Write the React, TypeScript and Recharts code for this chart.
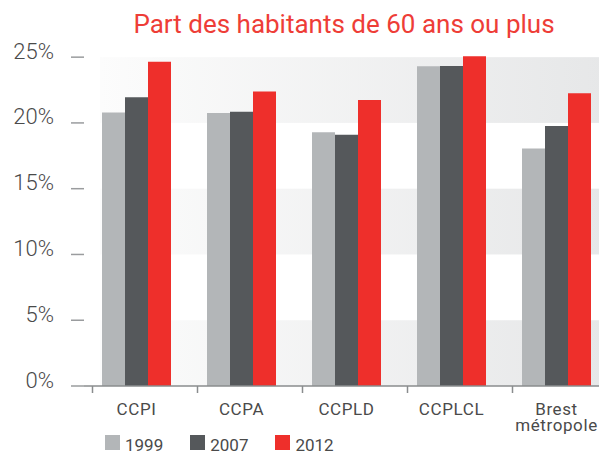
import React from 'react';
import { BarChart, Bar, XAxis, YAxis, ReferenceArea } from 'recharts';

const categories = ['CCPI', 'CCPA', 'CCPLD', 'CCPLCL', 'Brest\nmétropole'];
const values1999 = [20.8, 20.75, 19.3, 24.3, 18.05];
const values2007 = [21.95, 20.85, 19.1, 24.33, 19.77];
const values2012 = [24.66, 22.38, 21.75, 25.07, 22.26];
const seriesNames = ['1999', '2007', '2012'];
const seriesColors = ['#b3b6b8', '#55585b', '#ee2f2b'];
const yTicks = [0, 5, 10, 15, 20, 25];
const bands: [number, number][] = [[20, 25], [10, 15], [0, 5]];
const title = 'Part des habitants de 60 ans ou plus';

const data = categories.map((c, i) => ({
  name: c,
  s1999: values1999[i],
  s2007: values2007[i],
  s2012: values2012[i],
}));
const keys = ['s1999', 's2007', 's2012'];

const FONT = 'Roboto, sans-serif';
const TEXT = '#4a4a4a';

const YTick = (props: any) => {
  const { x, y, payload } = props;
  return (
    <text x={x} y={y} dy={-6} textAnchor="end" dominantBaseline="central" fill={TEXT} fontSize={22} fontWeight={300} fontFamily={FONT}>
      {payload.value}%
    </text>
  );
};

const XTick = (props: any) => {
  const { x, y, payload } = props;
  const lines = String(payload.value).split('\n');
  return (
    <g>
      <line x1={x - 44} x2={x - 44} y1={y} y2={y + 7} stroke="#8a8c8e" strokeWidth={1.5} />
      {lines.map((l, i) => (
        <text key={i} x={x} y={y + 29 + i * 16} textAnchor="middle" fill={TEXT} fontSize={17} fontFamily={FONT} letterSpacing={0.6}>
          {l}
        </text>
      ))}
    </g>
  );
};

const BandShape = (props: any) => {
  const { x, y, width, height } = props;
  return <rect x={x + 16} y={y} width={width - 16} height={height} fill="url(#bandGrad)" />;
};

export default function App() {
  return (
    <div style={{ position: 'absolute', left: 0, top: 0, width: 599, height: 453, overflow: 'hidden', background: '#fff' }}>
      <div style={{ position: 'absolute', left: 0, width: 688, top: 9, textAlign: 'center', color: '#ee3d37', fontSize: 26, fontFamily: FONT, lineHeight: '30px' }}>
        {title}
      </div>
      <BarChart width={620} height={453} data={data} margin={{ top: 44, right: 11, bottom: 0, left: 0 }} barGap={0} barSize={23}>
        <defs>
          <linearGradient id="bandGrad" x1="0" y1="0" x2="1" y2="0">
            <stop offset="0%" stopColor="#fcfcfc" />
            <stop offset="100%" stopColor="#e6e7e8" />
          </linearGradient>
        </defs>
        {bands.map(([a, b]) => (
          <ReferenceArea key={a} y1={a} y2={b} shape={<BandShape />} ifOverflow="visible" />
        ))}
        <XAxis
          dataKey="name"
          interval={0}
          height={67}
          tickSize={0}
          tickMargin={0}
          tickLine={false}
          axisLine={{ stroke: '#8a8c8e', strokeWidth: 1.5 }}
          tick={<XTick />}
        />
        <YAxis
          width={84}
          domain={[0, 26]}
          ticks={yTicks}
          axisLine={false}
          tickSize={13}
          tickMargin={17}
          tickLine={{ stroke: '#9a9c9e', strokeWidth: 1.5 }}
          tick={<YTick />}
        />
        {keys.map((k, i) => (
          <Bar key={k} dataKey={k} name={seriesNames[i]} fill={seriesColors[i]} isAnimationActive={false} />
        ))}
      </BarChart>
      <div style={{ position: 'absolute', left: 105, top: 435, display: 'flex', fontFamily: FONT, fontSize: 17, color: TEXT }}>
        {seriesNames.map((n, i) => (
          <div key={n} style={{ display: 'flex', alignItems: 'flex-start', marginRight: 27 }}>
            <div style={{ width: 15, height: 15, background: seriesColors[i], marginRight: 5 }} />
            <span style={{ lineHeight: '14px', marginTop: 3 }}>{n}</span>
          </div>
        ))}
      </div>
    </div>
  );
}
